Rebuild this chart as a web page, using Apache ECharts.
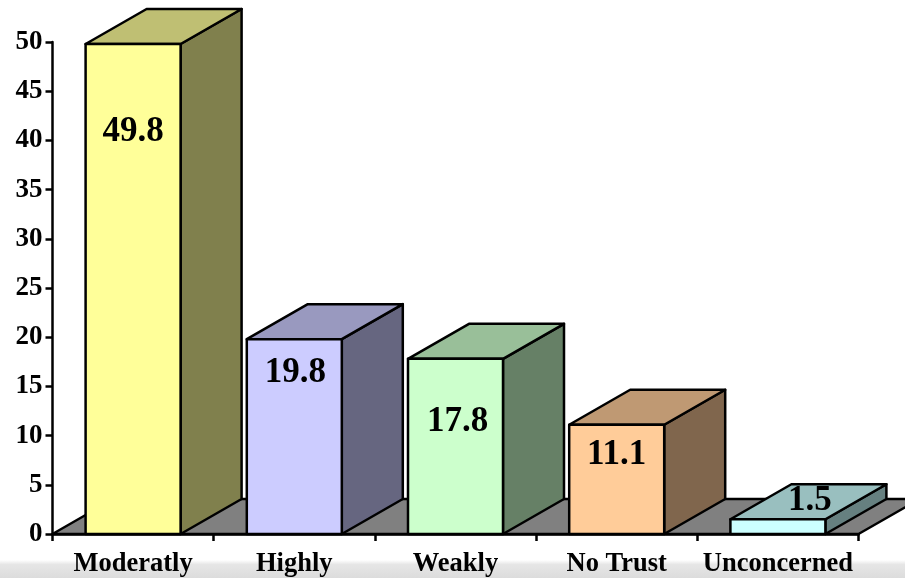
<!DOCTYPE html>
<html><head><meta charset="utf-8">
<style>html,body{margin:0;padding:0;background:#fff}
#c{width:905px;height:578px}</style>
<script src="https://cdn.jsdelivr.net/npm/echarts@6/dist/echarts.min.js"></script>
</head><body><div id="c"></div>
<script>
const categories = ['Moderatly','Highly','Weakly','No Trust','Unconcerned'];
const values = [49.8,19.8,17.8,11.1,1.5];
const yTicks = {min:0,max:50,interval:5};
const frontColors = ['#FFFF99','#CCCCFF','#CCFFCC','#FFCC99','#CCFFFF'];
const topColors = ['#BFBF73','#9999BF','#99BF99','#BF9973','#99BFBF'];
const sideColors = ['#80804D','#666680','#668066','#80664D','#668080'];
const labelOffsets = [[0,88],[1,34],[2,63],[0,30],[32,-18]];

const DX=61, DY=35, BAR=95, SERIF='"Liberation Serif","Times New Roman",serif';
const chart = echarts.init(document.getElementById('c'),null,{renderer:'canvas'});
const line={stroke:'#000',lineWidth:2.5,lineJoin:'round'};
function poly(points,fill){return {type:'polygon',shape:{points},style:Object.assign({fill},line)};}
chart.setOption({
  animation:false,
  backgroundColor:'#fff',
  grid:{left:52.5,right:46.5,top:42,bottom:43,containLabel:false},
  xAxis:{type:'category',data:categories,boundaryGap:true,z:5,
    axisLine:{lineStyle:{color:'#000',width:2.5}},
    axisTick:{show:true,alignWithLabel:false,length:7,lineStyle:{color:'#000',width:2.5}},
    axisLabel:{color:'#000',fontFamily:SERIF,fontWeight:'bold',fontSize:26.5,margin:17,interval:0},
    splitLine:{show:false}},
  yAxis:{type:'value',min:yTicks.min,max:yTicks.max,interval:yTicks.interval,z:5,
    axisLine:{show:true,lineStyle:{color:'#000',width:2.5}},
    axisTick:{show:true,length:7,lineStyle:{color:'#000',width:2.5}},
    axisLabel:{color:'#000',fontFamily:SERIF,fontWeight:'bold',fontSize:27,margin:10,padding:[2,0,0,0]},
    splitLine:{show:false}},
  series:[
   {type:'custom',coordinateSystem:'cartesian2d',data:[[0,0]],z:1,silent:true,
    renderItem:function(p,api){
      const cs=p.coordSys, y=api.coord([0,0])[1];
      const l=cs.x, r=cs.x+cs.width;
      return poly([[l,y],[l+DX,y-DY],[r+DX,y-DY],[r,y]],'#808080');
    }},
   {type:'custom',coordinateSystem:'cartesian2d',z:2,silent:true,
    encode:{x:0,y:1},
    data:values.map((v,i)=>[i,v]),
    renderItem:function(p,api){
      const i=api.value(0), v=api.value(1);
      const a=api.coord([i,v]), b=api.coord([i,0]);
      const x0=a[0]-BAR/2, x1=a[0]+BAR/2, t=a[1], y=b[1];
      const off=labelOffsets[i];
      return {type:'group',children:[
        poly([[x1,t],[x1+DX,t-DY],[x1+DX,y-DY],[x1,y]],sideColors[i]),
        poly([[x0,t],[x0+DX,t-DY],[x1+DX,t-DY],[x1,t]],topColors[i]),
        poly([[x0,t],[x1,t],[x1,y],[x0,y]],frontColors[i]),
        {type:'text',z2:10,style:{text:String(v),x:a[0]+off[0],y:t+off[1],align:'center',verticalAlign:'middle',
          fill:'#000',font:'bold 35px '+SERIF}}
      ]};
    }}
  ],
  graphic:[{type:'rect',z:-1,silent:true,shape:{x:0,y:560,width:905,height:18},
    style:{fill:{type:'linear',x:0,y:0,x2:0,y2:1,colorStops:[{offset:0,color:'#FFFFFF'},{offset:0.25,color:'#E6E6E6'},{offset:1,color:'#DCDCDC'}]}}}]
});
</script></body></html>
